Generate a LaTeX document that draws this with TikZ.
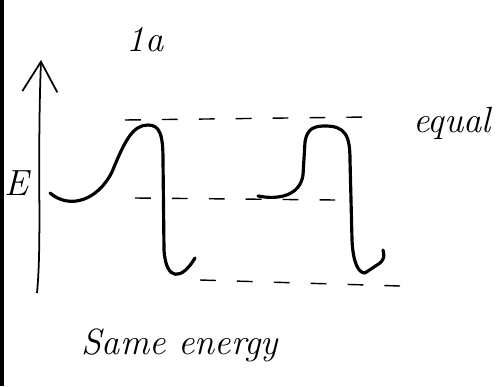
\documentclass[tikz,border=0pt]{standalone}
\usepackage{tikz}
\usetikzlibrary{arrows.meta}

\begin{document}
\begin{tikzpicture}[x=0.2mm, y=-0.2mm, thick,
    wave/.style={line width=1.8pt, line cap=round, line join=round},
    level/.style={dashed, dash pattern=on 9pt off 12pt, line width=0.8pt},
    hand/.style={font=#1\itshape}]
    \useasboundingbox (0,0) rectangle (499,386);
    \fill (0,0) rectangle (4,386);
    % energy axis
    \coordinate (base) at (37,293);
    \coordinate (tip) at (41,60);
    \draw[-{Straight Barb[length=6mm, width=7mm]}, line width=1pt] (base) .. controls (42,240) and (37,170) .. (tip);
    \node[hand=\huge] (elabel) at (17,183) {E};
    \node[hand=\huge] (title) at (145,40) {1a};
    % first well
    \draw[wave] (50,193) .. controls (70,210) and (98,200) .. (112,172)
        .. controls (125,140) and (133,125) .. (148,125)
        .. controls (160,125) and (163,135) .. (163,160) -- (164,250)
        .. controls (166,282) and (182,280) .. (195,258);
    % second well
    \draw[wave] (258,196) .. controls (278,200) and (300,196) .. (303,175)
        -- (305,142) .. controls (307,128) and (315,126) .. (325,126)
        .. controls (345,126) and (350,135) .. (350,160) -- (352,240)
        .. controls (353,262) and (358,273) .. (365,273) -- (380,263)
        .. controls (385,258) and (384,255) .. (383,250);
    % levels
    \coordinate (topL) at (125,120);
    \coordinate (topR) at (368,117);
    \coordinate (midL) at (135,198);
    \coordinate (midR) at (335,200);
    \coordinate (lowL) at (200,280);
    \coordinate (lowR) at (400,286);
    \draw[level] (topL) -- (topR);
    \draw[level] (midL) -- (midR);
    \draw[level] (lowL) -- (lowR);
    \node[hand=\huge] (equal) at (452,123) {equal};
    \node[hand=\huge] (same) at (180,345) {Same energy};
\end{tikzpicture}
\end{document}
